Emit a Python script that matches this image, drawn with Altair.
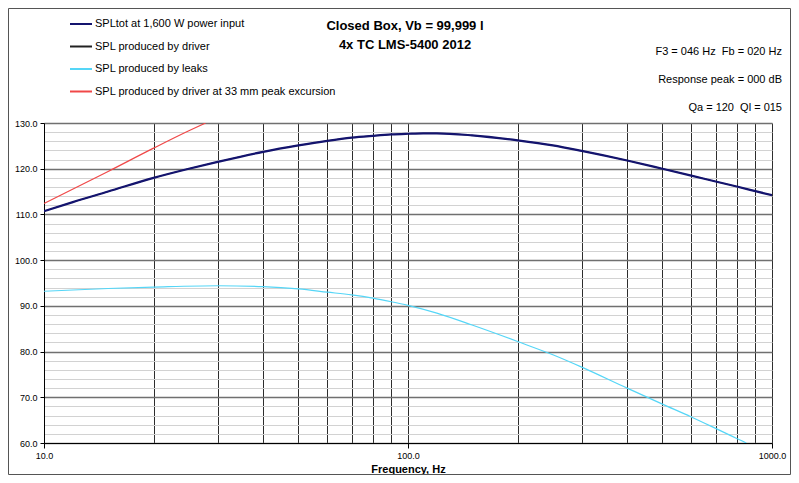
import altair as alt
import pandas as pd

# ---- data ----
series_names = [
    "SPLtot at 1,600 W power input",
    "SPL produced by driver",
    "SPL produced by leaks",
    "SPL produced by driver at 33 mm peak excursion",
]
series_colors = ["#14146e", "#222222", "#55d6f7", "#f04848"]

freq_tot = [10, 12, 15, 20, 25, 30, 40, 50, 60, 70, 80, 90, 100, 110, 120, 150,
            200, 250, 300, 400, 500, 600, 700, 800, 900, 1000]
spl_tot = [110.7, 112.7, 115.0, 118.0, 120.0, 121.5, 123.7, 125.1, 126.1, 126.8,
           127.2, 127.5, 127.65, 127.75, 127.75, 127.3, 126.2, 125.1, 123.9, 121.8,
           120.0, 118.5, 117.2, 116.1, 115.1, 114.2]
freq_driver = freq_tot
spl_driver = spl_tot

freq_leaks = [10, 15, 20, 30, 40, 50, 60, 70, 80, 90, 100, 120, 150, 200, 250,
              300, 400, 500, 600, 700, 800, 850]
spl_leaks = [93.2, 93.8, 94.1, 94.4, 94.2, 93.7, 93.0, 92.4, 91.7, 90.9, 90.1,
             88.4, 85.8, 82.2, 79.3, 76.6, 72.0, 68.5, 65.7, 63.2, 61.0, 60.0]

freq_xmax = [10, 15, 20, 25, 27.8]
spl_xmax = [112.4, 119.4, 124.5, 128.3, 130.0]

x_grid_values = [10, 20, 30, 40, 50, 60, 70, 80, 90,
                 100, 200, 300, 400, 500, 600, 700, 800, 900, 1000]
y_grid_values = list(range(60, 131, 2))

title_lines = ["Closed Box, Vb = 99,999 l", "4x TC LMS-5400 2012"]
note_lines = ["F3 = 046 Hz \u00a0Fb = 020 Hz", "Response peak = 000 dB", "Qa = 120 \u00a0Ql = 015"]
x_title = "Frequency, Hz"

FONT = "Liberation Sans"

rows = []
for name, fs, vs in [
    (series_names[1], freq_driver, spl_driver),
    (series_names[0], freq_tot, spl_tot),
    (series_names[2], freq_leaks, spl_leaks),
    (series_names[3], freq_xmax, spl_xmax),
]:
    for f, v in zip(fs, vs):
        rows.append({"series": name, "freq": f, "spl": v})
df = pd.DataFrame(rows)

x_enc = alt.X(
    "freq:Q",
    scale=alt.Scale(type="log", domain=[10, 1000], nice=False),
    axis=alt.Axis(
        values=x_grid_values,
        title=x_title,
        titleFont=FONT,
        titleFontSize=11,
        titleFontWeight="bold",
        titleColor="#000",
        titlePadding=3,
        labelExpr="(datum.value == 10 || datum.value == 100 || datum.value == 1000) ? format(datum.value, '.1f') : ''",
        labelFont=FONT,
        labelFontSize=9,
        labelColor="#000",
        labelPadding=3,
        labelFlush=False,
        labelOverlap=False,
        grid=True,
        gridColor="#2e2e2e",
        gridWidth=1,
        tickColor="#000",
        tickSize={"condition": {"test": "datum.value == 10 || datum.value == 100 || datum.value == 1000", "value": 5}, "value": 0},
        domainColor="#000",
    ),
)
y_enc = alt.Y(
    "spl:Q",
    scale=alt.Scale(domain=[60, 130], nice=False, zero=False),
    axis=alt.Axis(
        values=y_grid_values,
        title="",
        labelExpr="datum.value % 10 == 0 ? format(datum.value, '.1f') : ''",
        labelFont=FONT,
        labelFontSize=9,
        labelColor="#000",
        labelPadding=3,
        labelOverlap=False,
        grid=True,
        gridColor={"condition": {"test": "datum.value % 10 == 0", "value": "#707070"}, "value": "#d2d2d2"},
        gridWidth={"condition": {"test": "datum.value % 10 == 0", "value": 1.5}, "value": 1.2},
        tickColor="#000",
        tickSize={"condition": {"test": "datum.value % 10 == 0", "value": 4}, "value": 0},
        domainColor="#000",
    ),
)
color_enc = alt.Color(
    "series:N",
    scale=alt.Scale(domain=series_names, range=series_colors),
    legend=alt.Legend(
        title=None,
        orient="none",
        legendX=25,
        legendY=-111,
        symbolType="stroke",
        symbolSize=484,
        symbolStrokeWidth=2,
        labelFont=FONT,
        labelFontSize=11,
        labelColor="#000",
        labelOffset=2,
        rowPadding=5.5,
        labelLimit=400,
    ),
)

base = alt.Chart(df).encode(x=x_enc, y=y_enc, color=color_enc)

def series_layer(name, width):
    return base.transform_filter(alt.datum.series == name).mark_line(
        strokeWidth=width, clip=True, interpolate="monotone"
    )

lines = [
    series_layer(series_names[1], 1),
    series_layer(series_names[0], 2.2),
    series_layer(series_names[2], 1.2),
    series_layer(series_names[3], 1.2),
]

title_df = pd.DataFrame({"t": title_lines})
titles = [
    alt.Chart(title_df.iloc[[k]]).mark_text(
        font=FONT, fontSize=13, fontWeight="bold", align="center", baseline="middle", color="#000"
    ).encode(text="t:N", x=alt.value(361), y=alt.value(-97.5 + 19 * k))
    for k in range(2)
]

note_df = pd.DataFrame({"t": note_lines})
notes = [
    alt.Chart(note_df.iloc[[k]]).mark_text(
        font=FONT, fontSize=11, align="right", baseline="middle", color="#000"
    ).encode(text="t:N", x=alt.value(738), y=alt.value(-71 + 28 * k))
    for k in range(3)
]

border = alt.Chart(pd.DataFrame({"b": [0]})).mark_rect(
    fill="transparent", stroke="#555555", strokeWidth=1
).encode(
    x=alt.value(-35.5), x2=alt.value(746.5), y=alt.value(-114.5), y2=alt.value(351.5)
)

chart = alt.layer(*lines, *titles, *notes, border).properties(
    width=728,
    height=320,
    autosize=alt.AutoSizeParams(type="none"),
    padding={"left": 36, "top": 115, "right": 19, "bottom": 32},
).configure(font=FONT).configure_view(stroke="transparent")

chart.save("out.html", embed_options={"renderer": "svg", "actions": False})
